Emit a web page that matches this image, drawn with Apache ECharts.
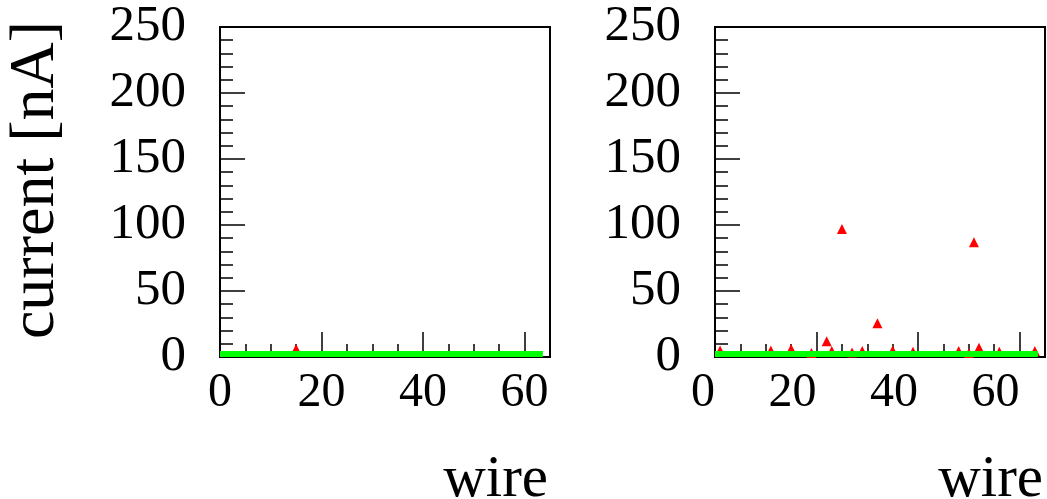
<!DOCTYPE html>
<html>
<head>
<meta charset="utf-8">
<title>wire current</title>
<script src="https://cdn.jsdelivr.net/npm/echarts@6/dist/echarts.min.js"></script>
<style>
  html, body { margin: 0; padding: 0; background: #fff; }
  #chart { width: 1047px; height: 499px; }
</style>
</head>
<body>
<div id="chart"></div>
<script>
// green band (pedestal) per panel
const greenWires = [0, 63.6]
const leftGreenCurrents = [2.3, 2.3]
const rightGreenCurrents = [2.3, 2.3]

// red triangles, left panel
const leftRedWires = [15]
const leftRedCurrents = [6]

// red triangles, right panel
const rightRedWires = [1, 11, 15, 19, 22, 23, 25, 27, 29, 32, 35, 39, 48, 50, 51, 52, 56, 63]
const rightRedCurrents = [5, 5, 6, 3, 12, 4.5, 97, 3.5, 4.5, 25.5, 5, 4, 4.5, 3, 87, 7, 4, 4.5]

const serif = "'Liberation Serif', 'Times New Roman', serif"

const pairs = (xs, ys) => xs.map((x, i) => [x, ys[i]])

// 主刻度轴 (labels + long ticks)
const majorX = (gridIndex, align) => ({
  type: 'value',
  gridIndex: gridIndex,
  position: 'bottom',
  min: 0,
  max: 65,
  interval: 20,
  axisLine: { show: true, onZero: false, lineStyle: { color: '#000', width: 2 } },
  axisTick: { show: true, inside: true, length: 25, lineStyle: { color: '#000', width: 1.5 } },
  axisLabel: {
    color: '#000',
    fontFamily: serif,
    fontSize: 48,
    margin: 12,
    align: align,
    showMaxLabel: false
  },
  splitLine: { show: false }
})

// 副刻度轴 (short ticks every 5)
const minorX = (gridIndex) => ({
  type: 'value',
  gridIndex: gridIndex,
  position: 'bottom',
  offset: 0,
  min: 0,
  max: 65,
  interval: 5,
  axisLine: { show: false },
  axisTick: { show: true, inside: true, length: 13, lineStyle: { color: '#000', width: 1.5 } },
  axisLabel: { show: false },
  splitLine: { show: false }
})

const yAxisOf = (gridIndex) => ({
  type: 'value',
  gridIndex: gridIndex,
  min: 0,
  max: 250,
  interval: 50,
  axisLine: { show: true, onZero: false, lineStyle: { color: '#000', width: 2 } },
  axisTick: { show: true, inside: true, length: 25, lineStyle: { color: '#000', width: 1.5 } },
  minorTick: { show: true, splitNumber: 5, length: 13, lineStyle: { color: '#000', width: 1.5 } },
  axisLabel: { color: '#000', fontFamily: serif, fontSize: 51, margin: 34 },
  splitLine: { show: false }
})

const greenSeries = (axisIndex, data) => ({
  type: 'line',
  xAxisIndex: axisIndex,
  yAxisIndex: axisIndex,
  data: data,
  showSymbol: false,
  silent: true,
  z: 3,
  lineStyle: { color: '#00ff00', width: 6 }
})

const redSeries = (axisIndex, data) => ({
  type: 'scatter',
  xAxisIndex: axisIndex,
  yAxisIndex: axisIndex,
  data: data,
  symbol: 'triangle',
  symbolSize: 10,
  z: 2,
  itemStyle: { color: '#ff0000', opacity: 1 }
})

const chart = echarts.init(document.getElementById('chart'))

const option = {
  animation: false,
  backgroundColor: '#fff',
  grid: [
    { left: 220, top: 27, width: 330, height: 330, show: true, borderColor: '#000', borderWidth: 2 },
    { left: 715, top: 27, width: 330, height: 330, show: true, borderColor: '#000', borderWidth: 2 }
  ],
  xAxis: [majorX(0, 'center'), majorX(1, 'right'), minorX(0), minorX(1)],
  yAxis: [yAxisOf(0), yAxisOf(1)],
  series: [
    redSeries(0, pairs(leftRedWires, leftRedCurrents)),
    greenSeries(0, pairs(greenWires, leftGreenCurrents)),
    redSeries(1, pairs(rightRedWires, rightRedCurrents)),
    greenSeries(1, pairs(greenWires, rightGreenCurrents))
  ],
  graphic: [
    {
      type: 'text',
      x: 36,
      y: 180,
      rotation: Math.PI / 2,
      style: { text: 'current [nA]', font: '64px ' + serif, fill: '#000', align: 'center', verticalAlign: 'middle' }
    },
    {
      type: 'text',
      x: 548,
      y: 480,
      style: { text: 'wire', font: '59px ' + serif, fill: '#000', align: 'right', verticalAlign: 'middle' }
    },
    {
      type: 'text',
      x: 1043,
      y: 480,
      style: { text: 'wire', font: '59px ' + serif, fill: '#000', align: 'right', verticalAlign: 'middle' }
    }
  ]
}

chart.setOption(option)
</script>
</body>
</html>
